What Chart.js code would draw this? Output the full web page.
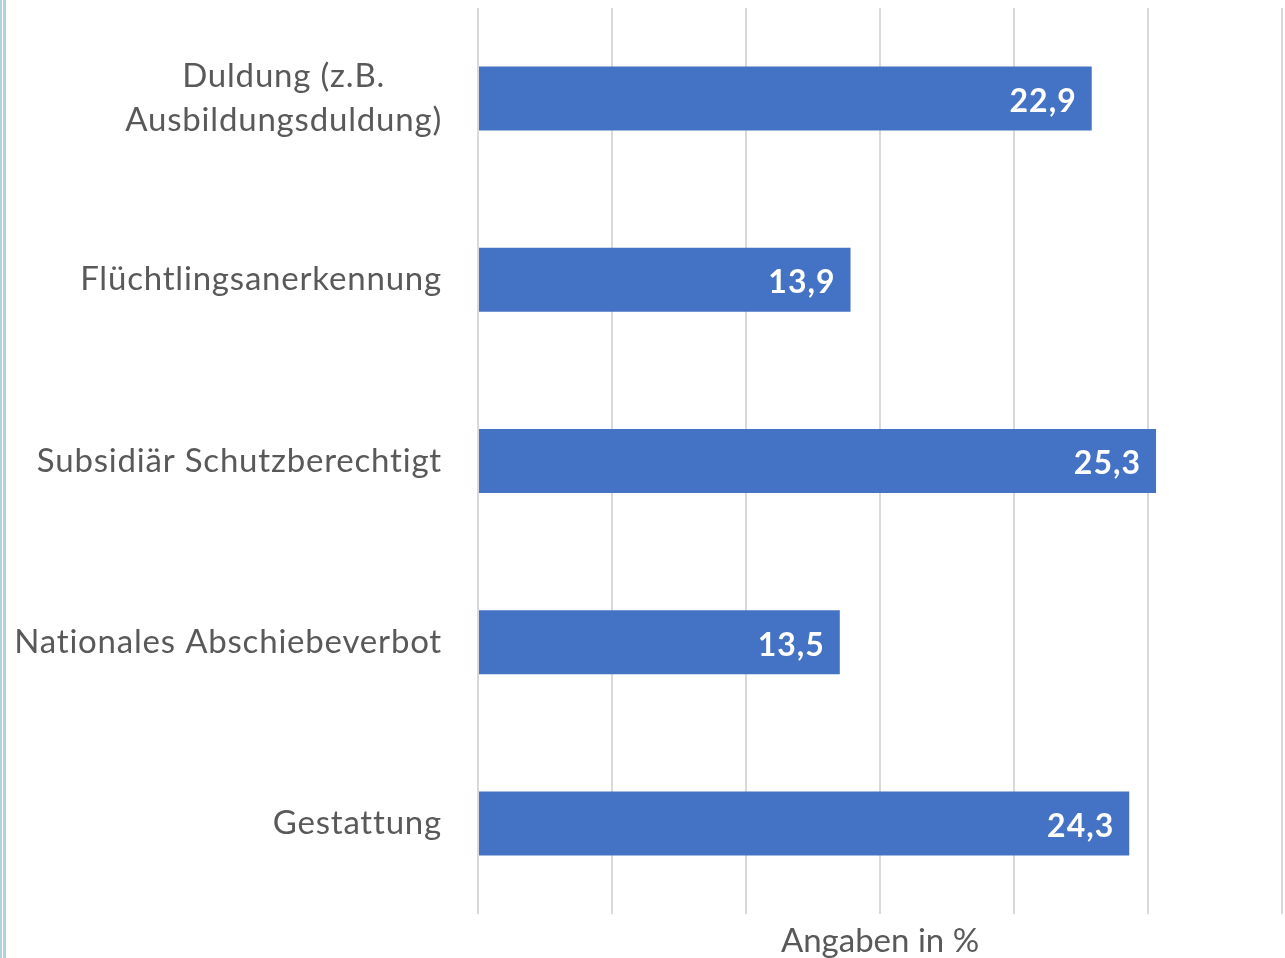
<!DOCTYPE html>
<html>
<head>
<meta charset="utf-8">
<script src="https://cdn.jsdelivr.net/npm/chart.js@4.4.1/dist/chart.umd.min.js"></script>
<style>
html,body{margin:0;padding:0;background:#fff;}
#wrap{position:relative;width:1285px;height:958px;overflow:hidden;}
.edge{position:absolute;top:0;height:958px;background:#b0d4df;}
</style>
</head>
<body>
<div id="wrap">
<canvas id="c" width="1285" height="958"></canvas>
<div class="edge" style="left:0;width:2px;"></div>
<div class="edge" style="left:3px;width:3px;"></div>
</div>
<script>
const categories = [
  ["Duldung (z.B.", "Ausbildungsduldung)"],
  "Flüchtlingsanerkennung",
  "Subsidiär Schutzberechtigt",
  "Nationales Abschiebeverbot",
  "Gestattung"
];
const values = [22.9, 13.9, 25.3, 13.5, 24.3];
const axisTitle = "Angaben in %";
const xMin = 0, xMax = 30, xStep = 5;

const FONT = "Lato, 'Open Sans', sans-serif";
const LABEL_SIZE = 33;
const TEXT_COLOR = "#595959";

const labelPlugin = {
  id: 'customLabels',
  afterDatasetsDraw(chart) {
    const ctx = chart.ctx;
    const yScale = chart.scales.y;
    const area = chart.chartArea;
    ctx.save();
    ctx.font = LABEL_SIZE + "px " + FONT;
    ctx.letterSpacing = "0.8px";
    ctx.fillStyle = TEXT_COLOR;
    ctx.textBaseline = "middle";
    const rightX = area.left - 36;
    const lineH = 44;
    categories.forEach((lab, i) => {
      const lines = Array.isArray(lab) ? lab : [lab];
      const yc = yScale.getPixelForValue(i);
      const widths = lines.map(l => ctx.measureText(l).width);
      const maxW = Math.max(...widths);
      const cx = rightX - maxW / 2;
      ctx.textAlign = "center";
      lines.forEach((l, j) => {
        const y = yc + (j - (lines.length - 1) / 2) * lineH;
        ctx.fillText(l, cx, y);
      });
    });
    ctx.font = "bold 32px " + FONT;
    ctx.letterSpacing = "1px";
    ctx.fillStyle = "#ffffff";
    ctx.textAlign = "right";
    const meta = chart.getDatasetMeta(0);
    meta.data.forEach((bar, i) => {
      ctx.fillText(values[i].toFixed(1).replace(".", ","), bar.x - 15, bar.y + 3);
    });
    ctx.restore();
  }
};

new Chart(document.getElementById('c'), {
  type: 'bar',
  data: {
    labels: categories.map(c => Array.isArray(c) ? c.join(" ") : c),
    datasets: [{
      data: values,
      backgroundColor: "#4472c4",
      borderWidth: 0,
      barPercentage: 0.353,
      categoryPercentage: 1.0
    }]
  },
  options: {
    indexAxis: 'y',
    responsive: false,
    animation: false,
    devicePixelRatio: 1,
    layout: { padding: { top: 8, right: 3, left: 0, bottom: 0 } },
    plugins: { legend: { display: false }, tooltip: { enabled: false } },
    scales: {
      x: {
        min: xMin, max: xMax,
        ticks: { stepSize: xStep, display: false },
        grid: { color: "#d9d9d9", lineWidth: 2, drawTicks: false },
        border: { display: false },
        title: {
          display: true, text: axisTitle, color: TEXT_COLOR,
          font: { family: FONT, size: LABEL_SIZE, lineHeight: 1 }, padding: { top: 11, bottom: 0 }
        }
      },
      y: {
        ticks: { display: false },
        grid: { display: false, drawTicks: false },
        border: { display: false },
        afterFit(scale) { scale.width = 478; }
      }
    }
  },
  plugins: [labelPlugin]
});
</script>
</body>
</html>
